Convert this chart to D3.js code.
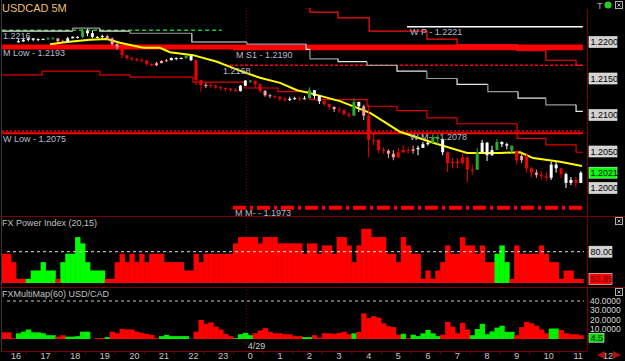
<!DOCTYPE html>
<html><head><meta charset="utf-8">
<script src="https://cdn.jsdelivr.net/npm/d3@7"></script>
<style>
html,body{margin:0;padding:0;background:#000;}
svg{display:block;}
text{font-family:"Liberation Sans",Arial,sans-serif;}
</style></head><body>
<svg id="c" width="625" height="361"></svg>
<script>
// ================= DATA =================
const title = "USDCAD 5M";
const barStart = -0.25;      // hours after 16:00 (4/28) of the first 10-minute bar
const barStep = 1/6;         // 10 minutes

const candleClose = [null,null,null,
1.2201,1.2203,1.2205,1.2203,1.2204,1.2204,1.2205,1.2205,1.2201,1.2200,
1.2205,1.2207,1.2207,1.2215,1.2212,1.2207,1.2207,1.2208,1.2205,1.2197,
1.2193,1.2182,1.2178,1.2177,1.2175,1.2175,1.2170,1.2168,1.2171,1.2174,
1.2175,1.2178,1.2178,1.2178,1.2181,1.2175,1.2148,1.2141,1.2141,1.2140,
1.2138,1.2137,1.2136,1.2134,1.2133,1.2140,1.2147,1.2147,1.2142,1.2133,
1.2127,1.2126,1.2125,1.2122,1.2121,1.2122,1.2123,1.2122,1.2123,1.2134,
1.2126,1.2119,1.2115,1.2111,1.2108,1.2107,1.2101,1.2099,1.2118,1.2112,
1.2099,1.2066,1.2066,1.2052,1.2051,1.2047,1.2042,1.2049,1.2052,1.2051,
1.2053,1.2055,1.2060,1.2062,1.2070,1.2067,1.2049,1.2034,1.2036,1.2034,
1.2042,1.2025,1.2025,1.2049,1.2062,1.2045,1.2052,1.2063,1.2060,1.2058,
1.2051,1.2038,1.2044,1.2027,1.2021,1.2018,1.2016,1.2014,1.2032,1.2027,
1.2019,1.2007,1.2011,1.2007,1.2021];
const candleHigh = [null,null,null,
1.2204,1.2205,1.2207,1.2205,1.2205,1.2205,1.2207,1.2207,1.2205,1.2203,
1.2207,1.2208,1.2208,1.2218,1.2218,1.2216,1.2208,1.2210,1.2210,1.2206,
1.2200,1.2194,1.2182,1.2180,1.2178,1.2178,1.2175,1.2171,1.2173,1.2175,
1.2177,1.2179,1.2179,1.2179,1.2182,1.2181,1.2176,1.2148,1.2144,1.2144,
1.2142,1.2140,1.2138,1.2137,1.2137,1.2141,1.2148,1.2148,1.2147,1.2143,
1.2134,1.2129,1.2127,1.2126,1.2125,1.2125,1.2125,1.2125,1.2126,1.2138,
1.2132,1.2127,1.2121,1.2116,1.2112,1.2111,1.2107,1.2104,1.2123,1.2116,
1.2114,1.2114,1.2074,1.2067,1.2056,1.2053,1.2052,1.2055,1.2058,1.2056,
1.2058,1.2058,1.2063,1.2064,1.2074,1.2073,1.2068,1.2050,1.2041,1.2041,
1.2049,1.2043,1.2032,1.2055,1.2066,1.2063,1.2058,1.2067,1.2064,1.2062,
1.2056,1.2051,1.2049,1.2048,1.2029,1.2025,1.2023,1.2022,1.2036,1.2036,
1.2027,1.2021,1.2015,1.2015,1.2023];
const candleLow = [null,null,null,
1.2199,1.2200,1.2201,1.2201,1.2201,1.2203,1.2203,1.2204,1.2199,1.2199,
1.2200,1.2205,1.2205,1.2205,1.2208,1.2205,1.2205,1.2205,1.2203,1.2195,
1.2189,1.2178,1.2175,1.2174,1.2173,1.2173,1.2167,1.2167,1.2167,1.2171,
1.2173,1.2175,1.2175,1.2177,1.2177,1.2174,1.2141,1.2132,1.2137,1.2137,
1.2136,1.2134,1.2132,1.2132,1.2132,1.2132,1.2140,1.2144,1.2137,1.2130,
1.2125,1.2123,1.2122,1.2119,1.2118,1.2119,1.2121,1.2119,1.2121,1.2127,
1.2122,1.2115,1.2112,1.2107,1.2104,1.2103,1.2099,1.2096,1.2107,1.2104,
1.2093,1.2042,1.2059,1.2048,1.2047,1.2041,1.2038,1.2041,1.2048,1.2047,
1.2047,1.2045,1.2055,1.2058,1.2062,1.2060,1.2045,1.2022,1.2027,1.2027,
1.2032,1.2008,1.2018,1.2036,1.2047,1.2037,1.2044,1.2055,1.2056,1.2053,
1.2047,1.2032,1.2034,1.2021,1.2015,1.2014,1.2011,1.2010,1.2011,1.2021,
1.2014,1.2000,1.2004,1.2001,1.2011];
// candle colour state: w=white, g=green, p=pink, r=red
const candleState = ("---" +
"wwwwwwggpp" + "wwwgwwwwpp" + "prrrrrrrpp" + "pwwwgwrrpr" + "rrrrrwwgrr" +
"pprrrwwrwg" + "wwrrprrrgw" + "prrrrpprrr" + "pwwwggwrrr" + "rrrgwwwgww" +
"grprrprrww" + "rwwrw").split("");

const maTimes  = [1.32,1.89,2.67,3.24,3.68,4.46,5.03,5.37,6.15,6.96,7.40,7.84,8.41,9.09,9.66,10.10,11.11,12.13,12.64,13.14,14.26,15.41,16.52,17.20,17.64,18.55,19.29];
const maValues = [1.2197,1.2200,1.2203,1.2204,1.2199,1.2192,1.2192,1.2186,1.2182,1.2173,1.2166,1.2159,1.2151,1.2144,1.2134,1.2130,1.2119,1.2103,1.2090,1.2077,1.2062,1.2048,1.2048,1.2049,1.2041,1.2036,1.2030];

const pivotTimes  = [-0.3,2.09,3.0,4.02,6.11,7.97,9.97,10.1,11.05,12.03,13.04,14.05,15.07,16.11,17.13,18.07,19.09,19.32];
const pivotValues = [1.2215,1.2219,1.2215,1.2212,1.2200,1.2197,1.2190,1.2177,1.2173,1.2168,1.2160,1.2150,1.2142,1.2132,1.2123,1.2114,1.2105,1.2105];
const upperTimes  = [9.93,10.1,11.05,12.1,14.05,15.07,17.1,18.07,19.09,19.32];
const upperValues = [1.2247,1.2241,1.2233,1.2215,1.2204,1.2196,1.2188,1.2175,1.2168,1.2168];
const lowerTimes  = [-0.3,1.05,3.0,4.02,6.15,7.9,9.02,10.1,12.03,13.04,14.05,15.07,17.1,18.07,19.09,19.32];
const lowerValues = [1.2155,1.2160,1.2155,1.2152,1.2145,1.2137,1.2132,1.2121,1.2112,1.2106,1.2096,1.2088,1.2068,1.2059,1.2049,1.2049];

const levelLabels = ["1.2216","W P - 1.2221","M Low - 1.2193","M S1 - 1.2190","1.2168","W M- - 1.2078","W Low - 1.2075","M M- - 1.1973"];
const levelPrices = [1.2216,1.2221,1.2193,1.2190,1.2168,1.2078,1.2075,1.1973];
const levelStart  = [-0.3,13.38,-0.3,7.5,7.23,-0.3,-0.3,7.5];
const levelEnd    = [7.12,19.32,19.32,19.32,19.32,19.32,19.32,19.32];
const levelLabelT = [-0.27,13.48,-0.27,7.6,7.16,13.48,-0.27,7.57];

const priceTicks = [1.2200,1.2150,1.2100,1.2050,1.2000];
const lastPrice = 1.2021;

const powerValues = [78,78,70,54,54,54,62,62,70,62,
62,54,70,78,78,94,88,70,62,62,
62,54,54,70,78,70,78,70,78,70,
78,78,78,70,70,70,70,62,62,78,
70,78,78,78,78,78,78,88,94,94,
94,94,88,94,94,94,88,88,88,88,
88,78,88,88,78,86,86,78,94,94,
86,70,86,102,102,94,94,94,78,78,
70,94,86,78,78,54,62,54,62,70,
86,78,78,94,86,86,78,86,70,70,
78,86,70,54,86,78,78,78,78,86,
78,70,70,54,62,62,54,53.85];
const powerState = ("rrrrrggggg"+"grgggggggg"+"grrrrrrrrr"+"rrrrrrrrrr"+"rrrrrrrrrr"+
"rrrrrrrrrr"+"rrrrrrrrrr"+"rrrrrrrrrr"+"rrrrrrrrrr"+"rrrrrrrrrr"+"gggrrrrrrr"+"rrrrrrrr").split("");
const powerLevel = 80;
const powerLast = 53.85;

const mmValues = [7,7,1,6,7.7,10,7,7,6,4,
4,2.5,4,2.5,2.5,3,7.7,7.7,0,1,
1,2,7.7,6,10.7,10,10,7.7,6.5,5.3,
4.3,1,3,4.3,3,3,3,3,0,7.7,
20,16,17.5,13,10,5.3,3,1,5,6.5,
4,6,9,11.4,7.7,6,6,5,5,3,
3,2,2,4,1.5,6,6,5.5,6.5,7.5,
5,6,7.5,27,22,24,22.5,16.5,13.5,12.5,
4.5,5.5,1,4.5,3,6,9.5,6,3,4.5,
18,13,6,17,10,4,10.5,16,5,8,
12,14,7.5,7.5,4,12.5,18,16.5,14,10,
6,11,11,9.5,6,5,5,4];
const mmState = ("rrrggggggg"+"grrgggggrr"+"rgrrrrrrrr"+"rrggggggrr"+"rrrrrrrggg"+
"grrrrrrrrr"+"rggrrrrrrr"+"rgrrrrrrrr"+"rgrggggggr"+"rrrrrggggg"+"ggggrrrrrr"+"rggrrrrr").split("");
const mmTicks = [40,30,20,10];
const mmLast = 4.5;

const hourTicks  = d3.range(0,21);
const hourLabels = ["16","17","18","19","20","21","22","23","0","1","2","3","4","5","6","7","8","9","10","11","12"];
const dateLabel = "4/29";
const dateHour = 8;

// ================= DRAW =================
const svg = d3.select("#c");
svg.append("rect").attr("width",625).attr("height",361).attr("fill","#000");

const x = d3.scaleLinear().domain([0,20]).range([11,603]);
const yP = d3.scaleLinear().domain([1.2000,1.2200]).range([188,42]);
const yPow = d3.scaleLinear().domain([50,80]).range([283,251.7]);
const yMM = d3.scaleLinear().domain([0,40]).range([339,301]);
const tOf = i => barStart + i*barStep;
const DR = "#7a0000";
const labelCol = "#b4bccc";

const defs = svg.append("defs");
function clip(id,x0,y0,w,h){defs.append("clipPath").attr("id",id).append("rect").attr("x",x0).attr("y",y0).attr("width",w).attr("height",h);}
clip("cMain",2,8,583,207); clip("cPow",2,217,583,70); clip("cMM",2,288,583,62);

// frame lines
svg.append("line").attr("x1",1.5).attr("x2",1.5).attr("y1",0).attr("y2",351).attr("stroke","#3a3a3a");
[216.5,287.5].forEach(yy=>svg.append("line").attr("x1",0).attr("x2",625).attr("y1",yy).attr("y2",yy).attr("stroke",DR));
svg.append("line").attr("x1",587.5).attr("x2",587.5).attr("y1",9).attr("y2",351).attr("stroke",DR);
svg.append("line").attr("x1",x(dateHour)-1.5).attr("x2",x(dateHour)-1.5).attr("y1",8).attr("y2",351)
  .attr("stroke",DR).attr("stroke-dasharray","1,2");

// ---- main panel ----
const gm = svg.append("g").attr("clip-path","url(#cMain)");
const redC="#ff0000";
function levelLine(i){ return [[levelStart[i],levelPrices[i]],[levelEnd[i],levelPrices[i]]]; }
const lineGen = d3.line().x(d=>x(d[0])).y(d=>yP(d[1]));
gm.append("path").attr("d",lineGen(levelLine(0))).attr("stroke","#22cc22").attr("stroke-width",1.5).attr("stroke-dasharray","4,3").attr("fill","none");
gm.append("path").attr("d",lineGen(levelLine(1))).attr("stroke","#ffffff").attr("stroke-width",1.5).attr("fill","none");
gm.append("path").attr("d",lineGen(levelLine(2))).attr("stroke",redC).attr("stroke-width",5).attr("fill","none");
gm.append("path").attr("d",lineGen(levelLine(3))).attr("stroke",redC).attr("stroke-width",2).attr("fill","none");
gm.append("path").attr("d",lineGen(levelLine(4))).attr("stroke",redC).attr("stroke-width",1.5).attr("stroke-dasharray","3,2").attr("fill","none");
gm.append("path").attr("d",lineGen(levelLine(5))).attr("stroke",redC).attr("stroke-width",1.5).attr("stroke-dasharray","2,2").attr("fill","none");
gm.append("path").attr("d",lineGen(levelLine(6))).attr("stroke",redC).attr("stroke-width",2).attr("fill","none");
gm.append("path").attr("d",lineGen(levelLine(7))).attr("stroke",redC).attr("stroke-width",4).attr("stroke-dasharray","13,4,3,4").attr("fill","none");

// step lines
const stepGen = d3.line().x(d=>x(d[0])).y(d=>yP(d[1])).curve(d3.curveStepAfter);
for(let i=0;i<pivotTimes.length-1;i++){
  const seg=[[pivotTimes[i],pivotValues[i]],[pivotTimes[i+1],pivotValues[i]]];
  if(i>0) seg.unshift([pivotTimes[i],pivotValues[i-1]]);
  gm.append("path").attr("d",d3.line().x(d=>x(d[0])).y(d=>yP(d[1]))(seg))
    .attr("stroke", i%2? "#9a9a9a":"#e6e6e6").attr("stroke-width",1.2).attr("fill","none");
}
gm.append("path").attr("d",stepGen(upperTimes.map((t,i)=>[t,upperValues[i]]))).attr("stroke","#ff1010").attr("stroke-width",1.2).attr("fill","none");
gm.append("path").attr("d",stepGen(lowerTimes.map((t,i)=>[t,lowerValues[i]]))).attr("stroke","#e00000").attr("stroke-width",1.2).attr("fill","none");

// moving average
gm.append("path").attr("d",lineGen(maTimes.map((t,i)=>[t,maValues[i]]))).attr("stroke","#ffff00").attr("stroke-width",2).attr("fill","none");

// candles
const cCol = {w:"#ffffff",g:"#2fa82f",p:"#ff9c9c",r:"#f00000"};
const cg = gm.append("g");
candleClose.forEach((c,i)=>{
  if(c==null) return;
  const o = candleClose[i-1]!=null ? candleClose[i-1] : c;
  const hi = Math.max(candleHigh[i],o,c), lo = Math.min(candleLow[i],o,c);
  const col = cCol[candleState[i]];
  const cx = x(tOf(i));
  cg.append("line").attr("x1",cx).attr("x2",cx).attr("y1",yP(hi)).attr("y2",yP(lo)).attr("stroke",col).attr("stroke-width",1);
  const top = yP(Math.max(o,c)), bot = yP(Math.min(o,c));
  cg.append("rect").attr("x",cx-1.5).attr("y",top).attr("width",3).attr("height",Math.max(1,bot-top)).attr("fill",col);
});

// level labels
levelLabels.forEach((s,i)=>{
  svg.append("text").attr("x",x(levelLabelT[i])).attr("y",yP(levelPrices[i])+8.5).text(s)
    .attr("fill",labelCol).attr("font-size",9);
});

// title and top icons
svg.append("text").attr("x",2).attr("y",12).text(title).attr("fill","#f0bf6c").attr("font-size",11);
svg.append("text").attr("x",597).attr("y",9).text("T").attr("fill","#b0b0b0").attr("font-size",9);
svg.append("circle").attr("cx",608).attr("cy",5).attr("r",3.5).attr("fill","#22d022");
function icon(x0,y0){
  svg.append("rect").attr("x",x0).attr("y",y0).attr("width",7).attr("height",7).attr("fill","none").attr("stroke","#b0b0b0");
  svg.append("path").attr("d",`M${x0+2},${y0+2}L${x0+5},${y0+5}M${x0+5},${y0+2}L${x0+2},${y0+5}`).attr("stroke","#b0b0b0");
}
icon(615.5,1.5); icon(615.5,217.5); icon(615.5,288.5);

// right price axis
function box(yc,txt,bg,fg,w,h){
  h = h||11;
  const g=svg.append("g");
  g.append("rect").attr("x",589).attr("y",yc-h/2).attr("width",w||28).attr("height",h).attr("fill",bg).attr("stroke","#eeeeee").attr("stroke-width",0.6);
  g.append("text").attr("x",590.5).attr("y",yc+3.3).text(txt).attr("fill",fg).attr("font-size",9);
}
priceTicks.forEach(p=>{
  svg.append("line").attr("x1",587).attr("x2",590).attr("y1",yP(p)).attr("y2",yP(p)).attr("stroke",DR);
  box(yP(p), p.toFixed(4), "#d2d2d2", "#000");
});
[1.2175,1.2125,1.2075,1.2025,1.1975].forEach(p=>svg.append("line").attr("x1",587).attr("x2",589).attr("y1",yP(p)).attr("y2",yP(p)).attr("stroke",DR));
box(yP(lastPrice), lastPrice.toFixed(4), "#00ff00", "#000");

// ---- power index panel ----
const gp = svg.append("g").attr("clip-path","url(#cPow)");
const barW = x(barStep)-x(0);
powerValues.forEach((v,i)=>{
  gp.append("rect").attr("x",x(tOf(i))-barW/2).attr("width",barW+0.4)
    .attr("y",yPow(v)).attr("height",yPow(50)-yPow(v))
    .attr("fill",powerState[i]==="g"?"#00ff00":"#ff0000");
});
gp.append("line").attr("x1",7).attr("x2",584).attr("y1",yPow(powerLevel)).attr("y2",yPow(powerLevel))
  .attr("stroke","#e0e0e0").attr("stroke-dasharray","3,3");
svg.append("text").attr("x",2).attr("y",226).text("FX Power Index (20,15)").attr("fill","#c0c0c0").attr("font-size",9);
svg.append("line").attr("x1",587).attr("x2",590).attr("y1",yPow(powerLevel)).attr("y2",yPow(powerLevel)).attr("stroke",DR);
box(yPow(powerLevel), powerLevel.toFixed(2), "#d2d2d2", "#000", 23);
box(yPow(powerLast), powerLast.toFixed(2), "#ff0000", "#500000", 23);

// ---- multimap panel ----
const gmm = svg.append("g").attr("clip-path","url(#cMM)");
mmValues.forEach((v,i)=>{
  if(v<=0) return;
  gmm.append("rect").attr("x",x(tOf(i))-barW/2).attr("width",barW+0.4)
    .attr("y",yMM(v)).attr("height",yMM(0)-yMM(v))
    .attr("fill",mmState[i]==="g"?"#00ee00":"#ff0000");
});
gmm.append("line").attr("x1",7).attr("x2",584).attr("y1",yMM(40)).attr("y2",yMM(40))
  .attr("stroke","#c8c8c8").attr("stroke-dasharray","3,3");
svg.append("text").attr("x",2).attr("y",297).text("FXMultiMap(60) USD/CAD").attr("fill","#c0c0c0").attr("font-size",9);
mmTicks.forEach(v=>{
  svg.append("line").attr("x1",587).attr("x2",590).attr("y1",yMM(v)).attr("y2",yMM(v)).attr("stroke",DR);
  svg.append("text").attr("x",590).attr("y",yMM(v)+2.8).text(v.toFixed(4)).attr("fill","#d8d8d8").attr("font-size",8.5);
});
box(yMM(mmLast)+3, String(mmLast), "#00e000", "#000", 15, 9);

// ---- x axis ----
const ax = svg.append("g").attr("transform","translate(0,351)");
ax.append("line").attr("x1",2).attr("x2",587).attr("y1",0.5).attr("y2",0.5).attr("stroke",DR);
const major = d3.axisBottom(x).tickValues(hourTicks).tickSize(4).tickFormat((d,i)=>hourLabels[i]);
const minor = d3.axisBottom(x).tickValues(hourTicks.map(h=>h+0.5).filter(h=>x(h)<587)).tickSize(3).tickFormat("");
const gMinor = ax.append("g").call(minor);
const gMajor = ax.append("g").call(major);
[gMinor,gMajor].forEach(g=>{g.select(".domain").remove(); g.selectAll("line").attr("stroke",DR);});
gMajor.selectAll(".tick line").attr("opacity",(d)=>x(d)<587?1:0);
gMajor.selectAll("text").attr("fill","#c8c8c8").attr("font-size",9).attr("font-family","Liberation Sans, Arial, sans-serif")
  .attr("text-anchor","start").attr("dx",-0.5).attr("y",2).attr("dy","0.71em");
svg.append("text").attr("x",x(dateHour)).attr("y",349).text(dateLabel).attr("fill","#c8c8c8").attr("font-size",9);
svg.append("path").attr("d","M597,355L605,351L605,359Z").attr("fill","#b01010");
svg.append("path").attr("d","M621,355L613,351L613,359Z").attr("fill","#b01010");
</script>
</body></html>
